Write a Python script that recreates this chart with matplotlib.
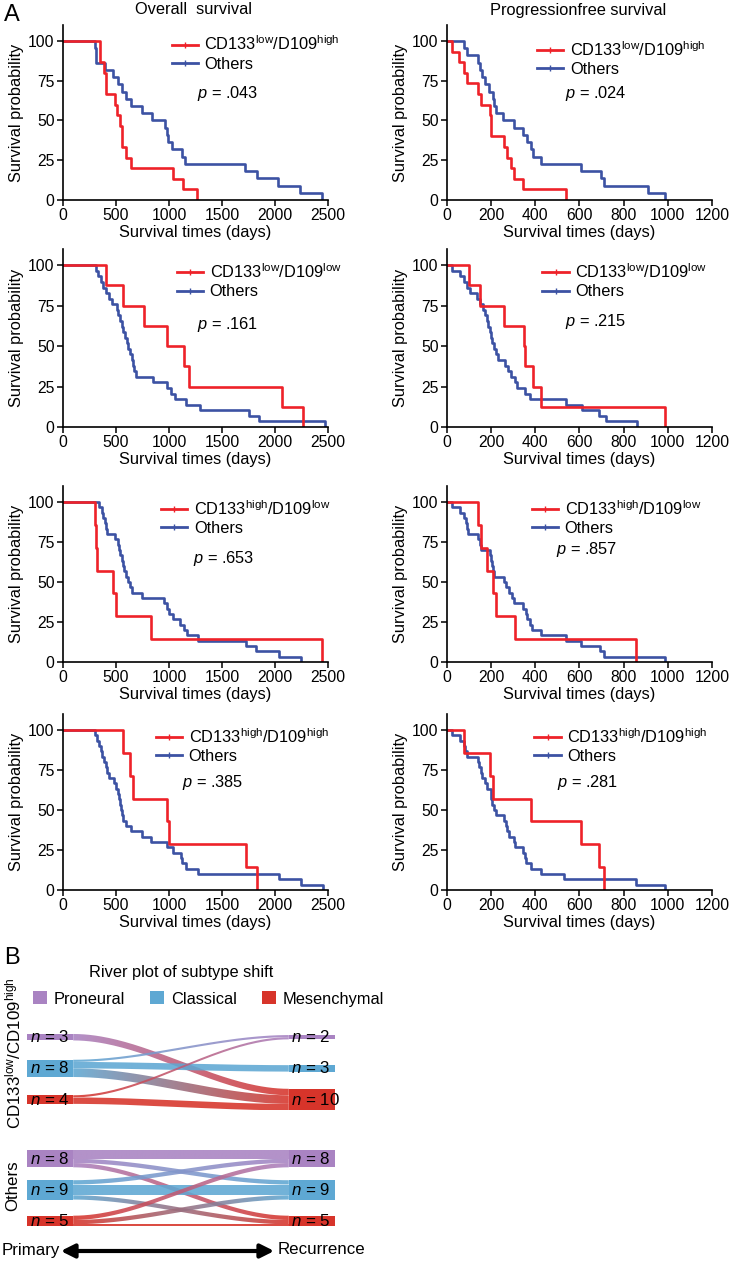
import matplotlib.pyplot as plt
import numpy as np
from matplotlib.lines import Line2D
from matplotlib.patches import Rectangle, PathPatch, Patch, FancyArrowPatch
from matplotlib.path import Path
import matplotlib.colors as mcolors

plt.rcParams['font.family'] = ['Liberation Sans', 'DejaVu Sans']
plt.rcParams['mathtext.fontset'] = 'custom'
plt.rcParams['mathtext.rm'] = 'Liberation Sans'
plt.rcParams['mathtext.it'] = 'Liberation Sans:italic'
plt.rcParams['mathtext.bf'] = 'Liberation Sans:bold'

# ---------------- data: Kaplan-Meier event times (days) ----------------
group_labels = [r'CD133$^{\mathrm{low}}$/D109$^{\mathrm{high}}$',
                r'CD133$^{\mathrm{low}}$/D109$^{\mathrm{low}}$',
                r'CD133$^{\mathrm{high}}$/D109$^{\mathrm{low}}$',
                r'CD133$^{\mathrm{high}}$/D109$^{\mathrm{high}}$']
os_p = ['.043', '.161', '.653', '.385']
pfs_p = ['.024', '.215', '.857', '.281']

os_red = [
    [353, 353, 388, 410, 410, 489, 514, 536, 558, 558, 599, 646, 1034, 1135, 1267],
    [403, 569, 766, 981, 1141, 1188, 2069, 2263],
    [301, 310, 323, 475, 500, 829, 2446],
    [565, 631, 660, 979, 1001, 1727, 1828],
]
os_blue = [
    [300, 315, 315, 394, 473, 520, 552, 599, 646, 741, 835, 962, 977, 993, 1025,
     1119, 1151, 1718, 1828, 2033, 2238, 2443],
    [312, 334, 356, 381, 403, 434, 459, 506, 522, 538, 553, 569, 584, 600, 616,
     631, 647, 663, 672, 684, 850, 981, 1022, 1053, 1163, 1294, 1756, 1850, 2475],
    [342, 364, 380, 396, 405, 415, 491, 516, 528, 541, 554, 566, 579, 595, 617,
     633, 649, 744, 956, 981, 1003, 1035, 1108, 1139, 1171, 1272, 1725, 1820, 2035, 2247],
    [300, 322, 338, 357, 369, 385, 401, 417, 432, 480, 502, 518, 527, 537, 546,
     552, 565, 590, 638, 748, 827, 985, 1039, 1111, 1127, 1158, 1269, 2042, 2247, 2453],
]
pfs_red = [
    [23, 53, 79, 91, 139, 155, 194, 197, 200, 258, 273, 288, 303, 345, 538],
    [98, 150, 258, 348, 352, 390, 424, 987],
    [139, 152, 179, 209, 223, 306, 856],
    [76, 194, 209, 379, 609, 689, 712],
]
pfs_blue = [
    [76, 91, 139, 148, 159, 174, 189, 209, 215, 224, 255, 303, 345, 364, 379, 391,
     424, 606, 697, 712, 909, 985],
    [22, 57, 75, 90, 102, 138, 150, 165, 172, 180, 187, 195, 199, 205, 213, 222,
     232, 262, 277, 292, 307, 315, 352, 375, 537, 610, 690, 720, 862],
    [23, 61, 76, 88, 91, 94, 139, 148, 156, 194, 200, 205, 209, 215, 258, 265, 280,
     295, 303, 345, 356, 364, 376, 386, 424, 538, 606, 694, 712, 988],
    [23, 58, 76, 83, 91, 139, 145, 152, 159, 174, 182, 197, 200, 205, 212, 224, 258,
     265, 273, 280, 303, 306, 345, 352, 356, 382, 424, 530, 856, 988],
]

# ---------------- data: river plot (rows = primary, cols = recurrence) ----------------
subtypes = ['Proneural', 'Classical', 'Mesenchymal']
river_groups = [r'CD133$^{\mathrm{low}}$/CD109$^{\mathrm{high}}$', 'Others']
shift_g1 = [[0, 0, 3],
            [1, 3, 4],
            [1, 0, 3]]
shift_g2 = [[4, 2, 2],
            [2, 5, 2],
            [2, 2, 1]]

RED = '#ee2229'
BLUE = '#3c52a3'
sub_colors = ['#a983c2', '#5ea8d3', '#d7342a']
FS = 11.8

W, H = 733, 1261
fig = plt.figure(figsize=(W / 100, H / 100), dpi=100)


def box(l, t, r, b):
    return [l / W, 1 - b / H, (r - l) / W, (b - t) / H]


def km(times):
    t = np.sort(np.asarray(times, float))
    n = len(t)
    x = np.concatenate([[0], t])
    y = np.concatenate([[100], 100 * (n - np.arange(1, n + 1)) / n])
    return x, y


rows = [(25, 200), (249, 427), (486, 662), (714, 890)]
cols = [(63, 328), (447, 712)]
# legend anchor / p-text position per panel (axes fraction)
leg_xy = [[(0.41, 0.945), (0.34, 0.915)], [(0.43, 0.925), (0.36, 0.925)],
          [(0.37, 0.925), (0.32, 0.925)], [(0.35, 0.925), (0.33, 0.925)]]
p_pos = [[(0.505, 0.61), (0.445, 0.61)], [(0.505, 0.575), (0.445, 0.59)],
         [(0.49, 0.59), (0.41, 0.64)], [(0.45, 0.61), (0.415, 0.61)]]

for r in range(4):
    for c in range(2):
        t, b = rows[r]
        l, rr = cols[c]
        ax = fig.add_axes(box(l, t, rr, b))
        if c == 0:
            red, blue, pv, xmax, step = os_red[r], os_blue[r], os_p[r], 2500, 500
        else:
            red, blue, pv, xmax, step = pfs_red[r], pfs_blue[r], pfs_p[r], 1200, 200
        bx, by = km(blue)
        rx, ry = km(red)
        ax.step(bx, by, where='post', color=BLUE, lw=1.9)
        ax.step(rx, ry, where='post', color=RED, lw=1.9)
        ax.set_xlim(0, xmax)
        ax.set_ylim(0, 110)
        ax.set_xticks(np.arange(0, xmax + 1, step))
        ax.set_yticks([0, 25, 50, 75, 100])
        for s in ['top', 'right']:
            ax.spines[s].set_visible(False)
        for s in ['left', 'bottom']:
            ax.spines[s].set_linewidth(1.2)
        ax.spines['bottom'].set_bounds(0, xmax)
        ax.tick_params(direction='out', length=4, width=1.1, labelsize=11.3, pad=2)
        ax.set_xlabel('Survival times (days)', fontsize=FS, labelpad=1)
        ax.set_ylabel('Survival probability', fontsize=FS, labelpad=3)
        handles = [Line2D([], [], color=RED, lw=2, marker='|', markersize=5),
                   Line2D([], [], color=BLUE, lw=2, marker='|', markersize=5)]
        ax.legend(handles, [group_labels[r], 'Others'], loc='upper left',
                  bbox_to_anchor=leg_xy[r][c], frameon=False, fontsize=FS,
                  handlelength=1.6, handletextpad=0.4, labelspacing=0.2,
                  borderaxespad=0, borderpad=0)
        px, py = p_pos[r][c]
        ax.text(px, py, r'$p$ = ' + pv, transform=ax.transAxes, fontsize=FS,
                va='center', ha='left')

fig.text(4 / W, 1 - 15 / H, 'A', fontsize=17, va='center', ha='left')
fig.text(193 / W, 1 - 10 / H, 'Overall  survival', fontsize=FS, ha='center', va='center')
fig.text(578 / W, 1 - 10 / H, 'Progressionfree survival', fontsize=FS, ha='center', va='center')

# ---------------- river plot ----------------
fig.text(4 / W, 1 - 958 / H, 'B', fontsize=17, va='center', ha='left')
fig.text(181 / W, 1 - 972 / H, 'River plot of subtype shift', fontsize=FS,
         ha='center', va='center')
leg_handles = [Patch(facecolor=col, edgecolor='none') for col in sub_colors]
fig.legend(leg_handles, subtypes, ncol=3, loc='center left',
           bbox_to_anchor=(33 / W, 1 - 999 / H), frameon=False, fontsize=FS,
           handlelength=0.85, handleheight=0.85, handletextpad=0.4,
           columnspacing=1.55, borderaxespad=0, borderpad=0)

rax = fig.add_axes(box(27, 1020, 335, 1240))
rax.set_xlim(0, 1)
rax.set_ylim(102.3, 0)
rax.axis('off')

node_w = 0.15
slot = 14.5
group_top = [8.0, 64.5]


def smooth(t):
    return 3 * t ** 2 - 2 * t ** 3


for g, mat in enumerate([shift_g1, shift_g2]):
    m = np.array(mat)
    left_n = m.sum(axis=1)
    right_n = m.sum(axis=0)
    centers = group_top[g] + slot * np.arange(3)
    left_top = centers - left_n / 2
    right_top = centers - right_n / 2
    # stacking offsets
    out_off = left_top.copy()
    in_start = np.zeros((3, 3))
    acc = right_top.copy()
    for i in range(3):
        for j in range(3):
            in_start[i, j] = acc[j]
            acc[j] += m[i, j]
    xa, xb = node_w, 1 - node_w
    tt = np.linspace(0, 1, 80)
    xs = xa + (xb - xa) * tt
    for i in range(3):
        for j in range(3):
            v = m[i, j]
            if v == 0:
                continue
            ya, yb = out_off[i], in_start[i, j]
            out_off[i] += v
            ytop = ya + (yb - ya) * smooth(tt)
            ybot = ytop + v
            verts = np.concatenate([np.column_stack([xs, ytop]),
                                    np.column_stack([xs[::-1], ybot[::-1]])])
            patch = PathPatch(Path(verts), facecolor='none', edgecolor='none')
            rax.add_patch(patch)
            c0 = np.array(mcolors.to_rgb(sub_colors[i]))
            c1 = np.array(mcolors.to_rgb(sub_colors[j]))
            grad = np.linspace(0, 1, 200)[:, None]
            img = (c0 * (1 - grad) + c1 * grad)[None, :, :]
            im = rax.imshow(img, extent=[xa, xb, max(ybot.max(), ytop.max()), ytop.min()],
                            aspect='auto', interpolation='bilinear', alpha=0.88, zorder=2)
            im.set_clip_path(patch)
    for k in range(3):
        rax.add_patch(Rectangle((0, left_top[k]), node_w, left_n[k],
                                facecolor=sub_colors[k], edgecolor='none', zorder=3))
        rax.add_patch(Rectangle((1 - node_w, right_top[k]), node_w, right_n[k],
                                facecolor=sub_colors[k], edgecolor='none', zorder=3))
        rax.text(0.01, centers[k], r'$n$ = %d' % left_n[k], fontsize=FS + 0.4,
                 va='center', ha='left', zorder=4)
        rax.text(0.857, centers[k], r'$n$ = %d' % right_n[k], fontsize=FS + 0.4,
                 va='center', ha='left', zorder=4)

rax.set_xlim(0, 1)
rax.set_ylim(102.3, 0)

fig.text(13 / W, 1 - 1053 / H, river_groups[0], rotation=90, fontsize=FS + 0.4,
         ha='center', va='center')
fig.text(13 / W, 1 - 1186 / H, river_groups[1], rotation=90, fontsize=FS + 0.4,
         ha='center', va='center')

fig.text(2 / W, 1 - 1250 / H, 'Primary', fontsize=FS + 0.4, ha='left', va='center')
fig.text(278 / W, 1 - 1250 / H, 'Recurrence', fontsize=FS + 0.4, ha='left', va='center')
fig.add_artist(FancyArrowPatch((58 / W, 1 - 1251 / H), (277 / W, 1 - 1251 / H),
                               transform=fig.transFigure, arrowstyle='<|-|>',
                               mutation_scale=20, lw=3, color='k'))

fig.savefig('out.png', dpi=100, facecolor='white')
